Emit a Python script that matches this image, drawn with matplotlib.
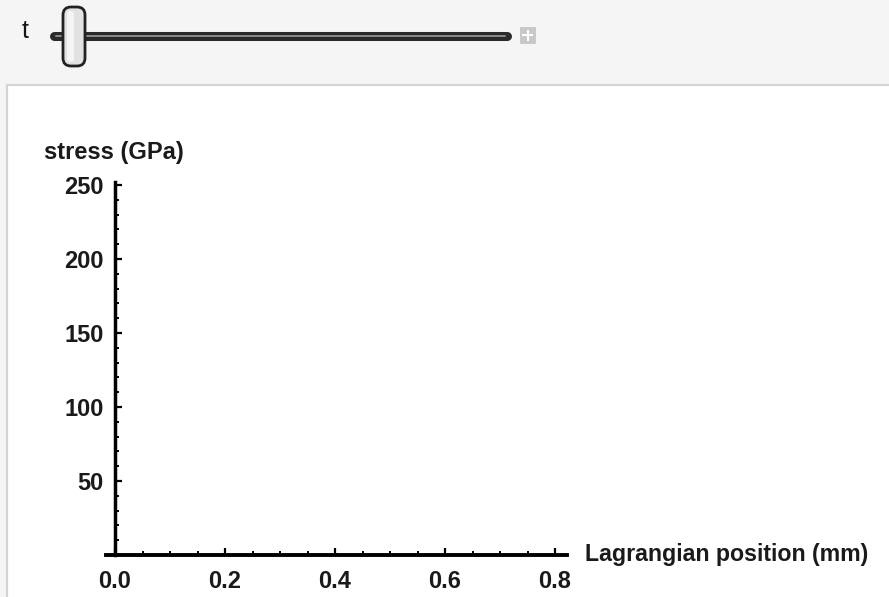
import matplotlib
matplotlib.use("Agg")
import matplotlib.pyplot as plt
from matplotlib.patches import FancyBboxPatch, Rectangle
import numpy as np

# ---- data (chart is empty at this slider position) ----
x_ticks = [0.0, 0.2, 0.4, 0.6, 0.8]
x_tick_labels = ["0.0", "0.2", "0.4", "0.6", "0.8"]
y_ticks = [50, 100, 150, 200, 250]
y_tick_labels = ["50", "100", "150", "200", "250"]
x_label = "Lagrangian position (mm)"
y_label = "stress (GPa)"
slider_label = "t"

W, H = 889, 597
fig = plt.figure(figsize=(W / 100, H / 100), dpi=100)
fig.patch.set_facecolor("#f5f5f5")

# background overlay in pixel coordinates
bg = fig.add_axes([0, 0, 1, 1])
bg.set_xlim(0, W)
bg.set_ylim(H, 0)
bg.axis("off")

# white panel
bg.add_patch(Rectangle((7, 85), W, H, facecolor="white", edgecolor="#d4d4d4", lw=1.6, zorder=1))

# slider label
bg.text(25, 31, slider_label, fontsize=18, family="Liberation Sans", ha="center", va="center",
        color="#151515", zorder=3)
# slider track
bg.plot([54, 507], [36, 36], color="#2a2a2a", lw=6.5, solid_capstyle="round", zorder=2)
bg.plot([56, 505], [36, 36], color="#8a8a8a", lw=1.4, solid_capstyle="round", zorder=2)
# thumb
bg.add_patch(FancyBboxPatch((63, 7), 22, 59, boxstyle="round,pad=0,rounding_size=8",
                            facecolor="#e2e2e2", edgecolor="#222222", lw=2.0, zorder=4))
bg.add_patch(FancyBboxPatch((67, 11), 7, 51, boxstyle="round,pad=0,rounding_size=3",
                            facecolor="#f4f4f4", edgecolor="none", zorder=5))
# plus button
bg.add_patch(Rectangle((520, 27), 15, 16, facecolor="#c8c8c8", edgecolor="#c0c0c0", lw=0.5, zorder=2))
bg.plot([523, 532], [35, 35], color="white", lw=1.5, zorder=3)
bg.plot([527.5, 527.5], [30.5, 39.5], color="white", lw=1.5, zorder=3)

# ---- plot axes ----
pxu_x = 550.0
pxu_y = 1.48
x0, x1 = -0.016, 0.822
y0, y1 = 0, 252
left_px = 115 + x0 * pxu_x
bottom_px = 555
ax = fig.add_axes([left_px / W, (H - bottom_px) / H,
                   (x1 - x0) * pxu_x / W, (y1 - y0) * pxu_y / H])
ax.set_xlim(x0, x1)
ax.set_ylim(y0, y1)
ax.patch.set_alpha(0)
for s in ["top", "right"]:
    ax.spines[s].set_visible(False)
ax.spines["left"].set_position(("data", 0))
ax.spines["left"].set_linewidth(2.5)
ax.spines["bottom"].set_linewidth(2.8)

ax.set_xticks(x_ticks)
ax.set_xticklabels(x_tick_labels)
ax.set_yticks(y_ticks)
ax.set_yticklabels(y_tick_labels)
ax.set_xticks(np.arange(0.05, 0.81, 0.05), minor=True)
ax.set_yticks(np.arange(10, 251, 10), minor=True)
ax.tick_params(which="major", direction="in", length=5, width=1.6)
ax.tick_params(which="minor", direction="in", length=3, width=1.4)
ax.tick_params(axis="x", which="major", pad=11)
ax.tick_params(axis="y", which="major", pad=8)
for lab in ax.get_xticklabels() + ax.get_yticklabels():
    lab.set_fontfamily("Liberation Sans")
    lab.set_fontsize(17)
    lab.set_fontweight("bold")
    lab.set_color("#1a1a1a")

bg.text(585, 555, x_label, fontsize=16.7, family="Liberation Sans", fontweight="bold",
        ha="left", va="center", color="#1a1a1a", zorder=3)
bg.text(44, 152, y_label, fontsize=17, family="Liberation Sans", fontweight="bold",
        ha="left", va="center", color="#1a1a1a", zorder=3)

fig.savefig("out.png", dpi=100, facecolor=fig.get_facecolor())
